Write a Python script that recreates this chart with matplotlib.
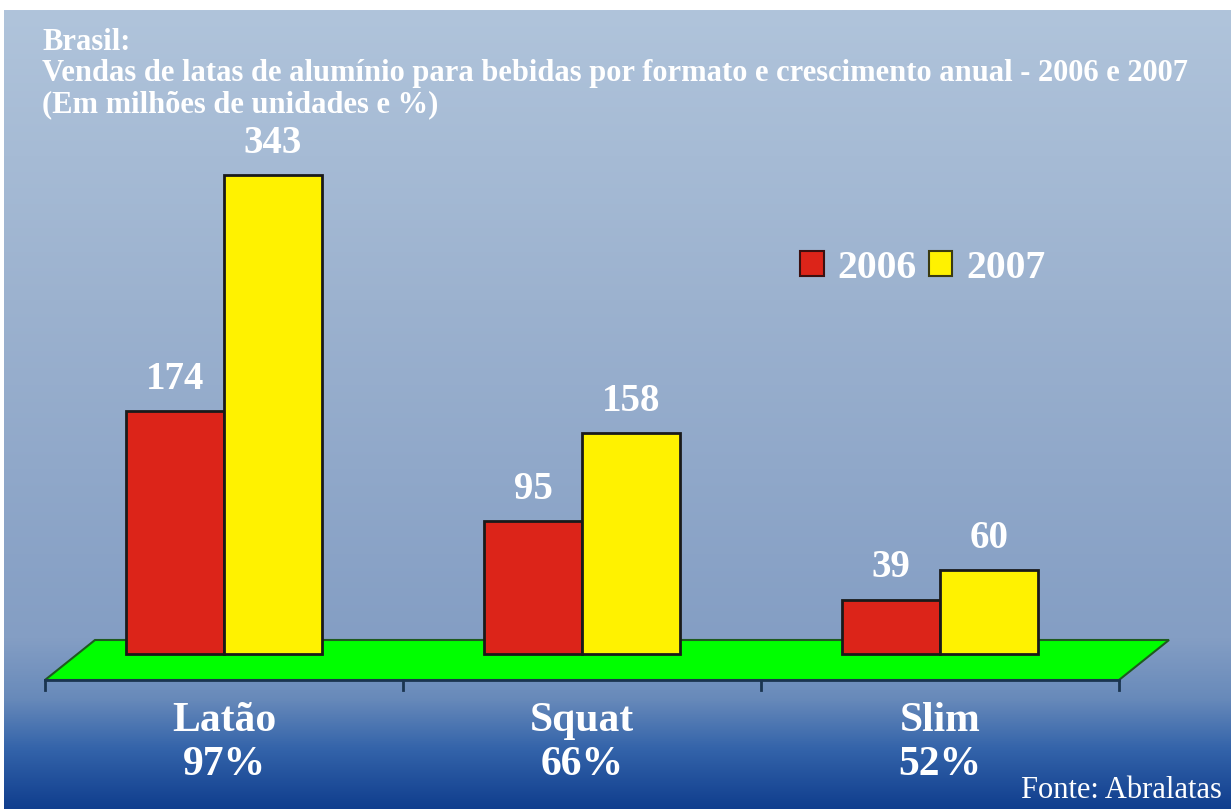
import numpy as np
import matplotlib.pyplot as plt
from matplotlib.patches import Patch, Polygon

categories = ['Latão', 'Squat', 'Slim']
growth = ['97%', '66%', '52%']
years = ['2006', '2007']
sales_2006 = [174, 95, 39]
sales_2007 = [343, 158, 60]

W, H = 1231, 809
fig = plt.figure(figsize=(W / 100, H / 100), dpi=100)
fig.patch.set_facecolor('white')

# gradient background
bg = fig.add_axes([4 / W, 0, 1 - 4 / W, 1 - 10 / H])
bg.set_axis_off()
stops_y = [0, 290, 630, 690, 740, 800]
stops_c = np.array([[176, 196, 219], [156, 178, 207], [132, 158, 196],
                    [104, 138, 186], [52, 100, 170], [16, 62, 142]]) / 255
yy = np.linspace(0, 800, 400)
grad = np.stack([np.interp(yy, stops_y, stops_c[:, k]) for k in range(3)], axis=-1)
bg.imshow(grad[:, None, :], aspect='auto', extent=[0, 1, 1, 0])
bg.set_xlim(0, 1)
bg.set_ylim(1, 0)

# main axes: x -0.5..2.5 -> px 45..1119, y=0 at px 654
scale = 1.397
y0_px = 654
ylo, yhi = -30, 400
bottom_px = y0_px - ylo * scale
top_px = y0_px - yhi * scale
ax = fig.add_axes([45 / W, 1 - bottom_px / H, (1119 - 45) / W, (bottom_px - top_px) / H])
ax.set_xlim(-0.5, 2.5)
ax.set_ylim(ylo, yhi)
ax.set_axis_off()

# green floor
fb = -(680 - y0_px) / scale
ft = (y0_px - 640) / scale
dx = 50 / 358
floor = Polygon([(-0.5, fb), (2.5, fb), (2.5 + dx, ft), (-0.5 + dx, ft)],
                closed=True, facecolor='#00ff00', edgecolor='#1f5a1f', lw=1.5,
                zorder=1, clip_on=False)
ax.add_patch(floor)
ax.plot([-0.5, 2.5], [fb, fb], color='#1b3550', lw=2, zorder=2, clip_on=False)
for t in [-0.5, 0.5, 1.5, 2.5]:
    ax.plot([t, t], [fb, fb - 10 / scale], color='#1b3550', lw=2, zorder=2, clip_on=False)

x = np.arange(len(categories))
bw = 98 / 358
b1 = ax.bar(x - bw / 2, sales_2006, bw, color='#dc2419', edgecolor='#1a1a1a', lw=2, zorder=3)
b2 = ax.bar(x + bw / 2, sales_2007, bw, color='#fff200', edgecolor='#1a1a1a', lw=2, zorder=3)

lab_font = dict(family='Liberation Serif', weight='bold', color='white', fontsize=28)
for bars, vals in [(b1, sales_2006), (b2, sales_2007)]:
    for r, v in zip(bars, vals):
        ax.annotate(str(v), (r.get_x() + r.get_width() / 2, v), xytext=(0, 16),
                    textcoords='offset points', ha='center', va='baseline', **lab_font)

for i, (c, g) in enumerate(zip(categories, growth)):
    fig.text((45 + (i + 0.5) * 358) / W, 1 - 721 / H, c, ha='center', va='center',
             family='Liberation Serif', weight='bold', color='white', fontsize=30)
    fig.text((45 + (i + 0.5) * 358) / W, 1 - 765 / H, g, ha='center', va='center',
             family='Liberation Serif', weight='bold', color='white', fontsize=30)

# title
title_lines = ['Brasil:',
               'Vendas de latas de alumínio para bebidas por formato e crescimento anual - 2006 e 2007',
               '(Em milhões de unidades e %)']
for i, line in enumerate(title_lines):
    fig.text(42 / W, 1 - (43 + i * 31) / H, line, ha='left', va='center',
             family='Liberation Serif', weight='bold', color='white', fontsize=22)

fig.text(1222 / W, 1 - 790 / H, 'Fonte: Abralatas', ha='right', va='center',
         family='Liberation Serif', color='white', fontsize=22)

handles = [Patch(facecolor='#dc2419', edgecolor='#3a1010', lw=1.5),
           Patch(facecolor='#fff200', edgecolor='#3a3a10', lw=1.5)]
leg = fig.legend(handles, years, loc='center left', bbox_to_anchor=(800 / W, 1 - 268 / H),
                 ncol=2, frameon=False, handlelength=0.6, handleheight=0.6,
                 handletextpad=0.35, columnspacing=0.3, borderpad=0, borderaxespad=0,
                 prop=dict(family='Liberation Serif', weight='bold', size=28.5))
for t in leg.get_texts():
    t.set_color('white')

fig.savefig('out.png', dpi=100)
